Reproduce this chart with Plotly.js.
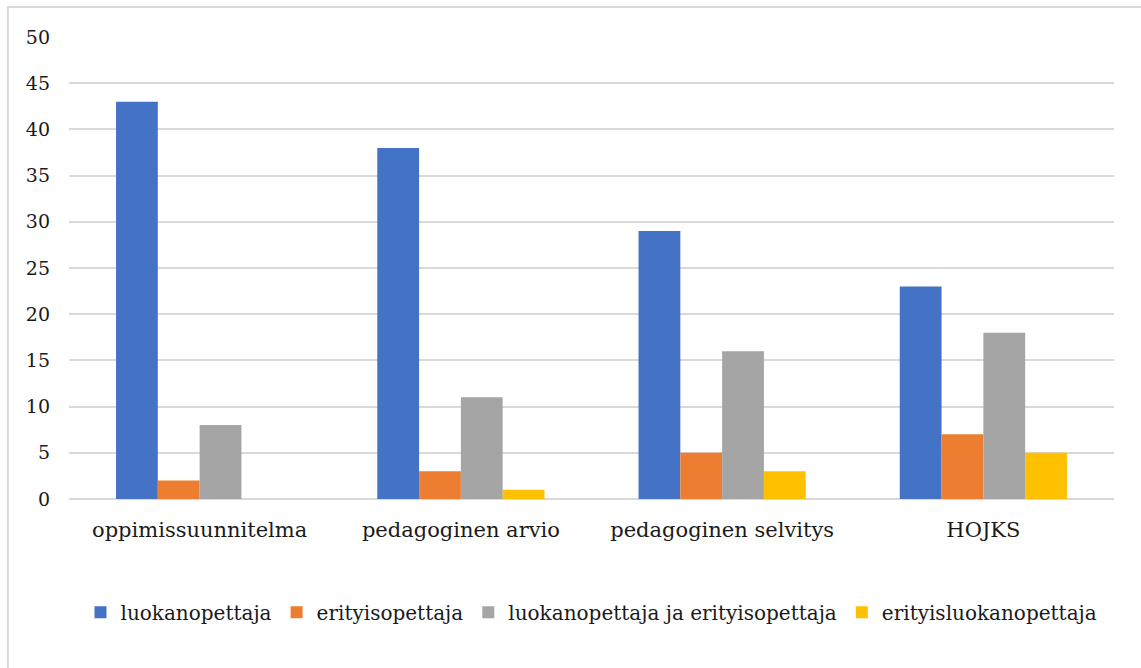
<!DOCTYPE html>
<html><head><meta charset="utf-8">
<script src="https://cdn.plot.ly/plotly-3.0.1.min.js"></script>
<style>html,body{margin:0;padding:0;background:#fff;}#chart{width:1141px;height:668px;}</style>
</head><body><div id="chart"></div>
<script>
const categories = ["oppimissuunnitelma", "pedagoginen arvio", "pedagoginen selvitys", "HOJKS"];
const seriesNames = ["luokanopettaja", "erityisopettaja", "luokanopettaja ja erityisopettaja", "erityisluokanopettaja"];
const luokanopettaja = [43, 38, 29, 23];
const erityisopettaja = [2, 3, 5, 7];
const molemmat = [8, 11, 16, 18];
const erityisluokanopettaja = [0, 1, 3, 5];
const colors = ["#4472C4", "#ED7D31", "#A5A5A5", "#FFC000"];
const values = [luokanopettaja, erityisopettaja, molemmat, erityisluokanopettaja];
const yTicks = [0, 5, 10, 15, 20, 25, 30, 35, 40, 45, 50];

const FONT = "DejaVu Serif";

const traces = values.map((v, i) => ({
  type: "bar", x: categories, y: v, name: seriesNames[i],
  marker: {color: colors[i]}, hoverinfo: "none"
}));

const layout = {
  width: 1141, height: 668,
  margin: {l: 69, r: 27, t: 37, b: 169},
  paper_bgcolor: "#fff", plot_bgcolor: "#fff",
  font: {family: FONT, color: "#1a1a1a", size: 20},
  barmode: "group", bargap: 0.36, bargroupgap: 0,
  xaxis: {tickfont: {family: FONT, size: 21}, showline: false, showgrid: false, ticks: "", ticklabelstandoff: 16},
  yaxis: {range: [0, 50], tickvals: yTicks, showgrid: true, gridcolor: "#D9D9D9", gridwidth: 2,
          zeroline: true, zerolinecolor: "#D9D9D9", zerolinewidth: 2, tickfont: {family: FONT, size: 19}, ticks: "", ticklabelstandoff: 18},
  showlegend: true,
  legend: {orientation: "h", x: 0.5, xanchor: "center", y: -0.245, yanchor: "middle",
           font: {family: FONT, size: 20}, itemwidth: 30, traceorder: "normal"},
  shapes: [{type: "rect", xref: "paper", yref: "paper", x0: -0.0585, x1: 1.2, y0: -0.6, y1: 1.065,
            line: {color: "#D9D9D9", width: 2}}]
};
Plotly.newPlot("chart", traces, layout, {displayModeBar: false, staticPlot: true});
</script></body></html>
